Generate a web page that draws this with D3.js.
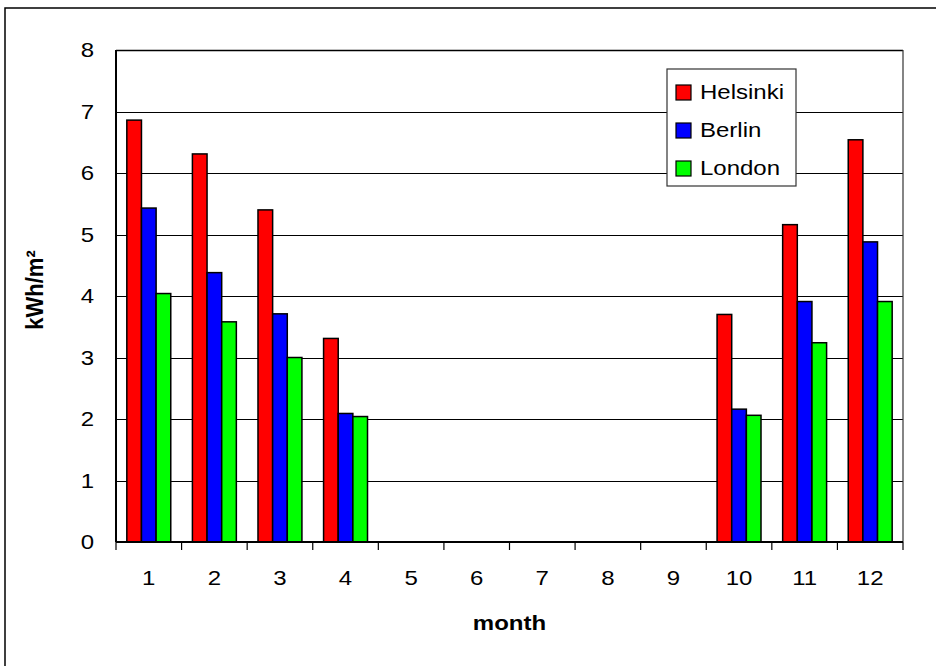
<!DOCTYPE html>
<html><head><meta charset="utf-8">
<script src="https://cdn.jsdelivr.net/npm/d3@7"></script>
<style>body{margin:0;background:#fff}svg{display:block}text{font-family:"Liberation Sans",Arial,sans-serif}</style>
</head><body>
<svg id="c" width="936" height="666"></svg>
<script>
const months = ["1","2","3","4","5","6","7","8","9","10","11","12"];
const seriesNames = ["Helsinki","Berlin","London"];
const seriesColors = ["#ff0000","#0000ff","#00ff00"];
const helsinki = [6.86,6.31,5.40,3.31,0,0,0,0,0,3.70,5.16,6.54];
const berlin   = [5.43,4.38,3.71,2.09,0,0,0,0,0,2.16,3.91,4.88];
const london   = [4.04,3.58,3.00,2.04,0,0,0,0,0,2.06,3.24,3.91];
const yTicks = [0,1,2,3,4,5,6,7,8];
const values = [helsinki, berlin, london];

const svg = d3.select("#c");
const L = 116, R = 903, T = 50, B = 542;
const SX = 1.2;

// outer border
svg.append("rect").attr("x",5).attr("y",8).attr("width",1000).attr("height",1000)
  .attr("fill","#fff").attr("stroke","#000").attr("stroke-width",1.5);

const x0 = d3.scaleBand().domain(months).range([L,R]).paddingInner(0.33).paddingOuter(0.165);
const x1 = d3.scaleBand().domain(seriesNames).range([0,x0.bandwidth()]);
const y = d3.scaleLinear().domain([0,8]).range([B,T]);

// gridlines
svg.append("g").selectAll("line").data(yTicks.filter(d=>d>0&&d<8)).join("line")
  .attr("x1",L).attr("x2",R).attr("y1",d=>Math.round(y(d))+0.5).attr("y2",d=>Math.round(y(d))+0.5)
  .attr("stroke","#000").attr("stroke-width",1);

// plot frame top/right
svg.append("line").attr("x1",L).attr("x2",R).attr("y1",T+0.5).attr("y2",T+0.5).attr("stroke","#000").attr("stroke-width",1.5);
svg.append("line").attr("x1",R).attr("x2",R).attr("y1",T).attr("y2",B).attr("stroke","#333").attr("stroke-width",1.2);

// bars
const groups = svg.append("g").selectAll("g").data(months).join("g")
  .attr("transform",d=>`translate(${x0(d)},0)`);
groups.selectAll("rect").data((m,i)=>seriesNames.map((s,k)=>({s,k,v:values[k][i]})).filter(d=>d.v>0)).join("rect")
  .attr("x",d=>x1(d.s)).attr("width",x1.bandwidth())
  .attr("y",d=>y(d.v)).attr("height",d=>y(0)-y(d.v))
  .attr("fill",d=>seriesColors[d.k]).attr("stroke","#000").attr("stroke-width",1.5);

// y axis
svg.append("line").attr("x1",L).attr("x2",L).attr("y1",T).attr("y2",B).attr("stroke","#000").attr("stroke-width",2);
svg.append("g").selectAll("text").data(yTicks).join("text")
  .attr("transform",d=>`translate(${L-22},${y(d)}) scale(${SX},1)`)
  .attr("text-anchor","end").attr("dy","0.36em").attr("font-size",20).attr("fill","#000")
  .text(d=>d);

// x axis
svg.append("line").attr("x1",L).attr("x2",R).attr("y1",B).attr("y2",B).attr("stroke","#000").attr("stroke-width",2);
const step = x0.step();
const bounds = d3.range(months.length+1).map(i=>x0(months[0]) - x0.paddingOuter()*step + i*step);
svg.append("g").selectAll("line").data(bounds).join("line")
  .attr("x1",d=>d).attr("x2",d=>d).attr("y1",B).attr("y2",B+8).attr("stroke","#000").attr("stroke-width",1.2);
svg.append("g").selectAll("text").data(months).join("text")
  .attr("transform",d=>`translate(${x0(d)+x0.bandwidth()/2},${B+43}) scale(${SX},1)`)
  .attr("text-anchor","middle").attr("font-size",20).attr("fill","#000").text(d=>d);

// axis titles
svg.append("text").attr("transform",`translate(${(L+R)/2},${630}) scale(${SX},1)`)
  .attr("text-anchor","middle").attr("font-size",20).attr("font-weight","bold").text("month");
svg.append("text").attr("transform",`translate(43,${(T+B)/2-6}) rotate(-90) scale(1.1,1.2)`)
  .attr("text-anchor","middle").attr("font-size",20).attr("font-weight","bold").text("kWh/m²");

// legend
const lg = svg.append("g").attr("transform","translate(667,69)");
lg.append("rect").attr("width",129).attr("height",117).attr("fill","#fff").attr("stroke","#333").attr("stroke-width",1.2);
const li = lg.selectAll("g").data(seriesNames).join("g").attr("transform",(d,i)=>`translate(0,${23+i*38})`);
li.append("rect").attr("x",9).attr("y",-7).attr("width",15).attr("height",15)
  .attr("fill",(d,i)=>seriesColors[i]).attr("stroke","#000").attr("stroke-width",1.2);
li.append("text").attr("transform",`translate(33,0) scale(${SX},1)`).attr("dy","0.36em")
  .attr("font-size",20).text(d=>d);
</script>
</body></html>
